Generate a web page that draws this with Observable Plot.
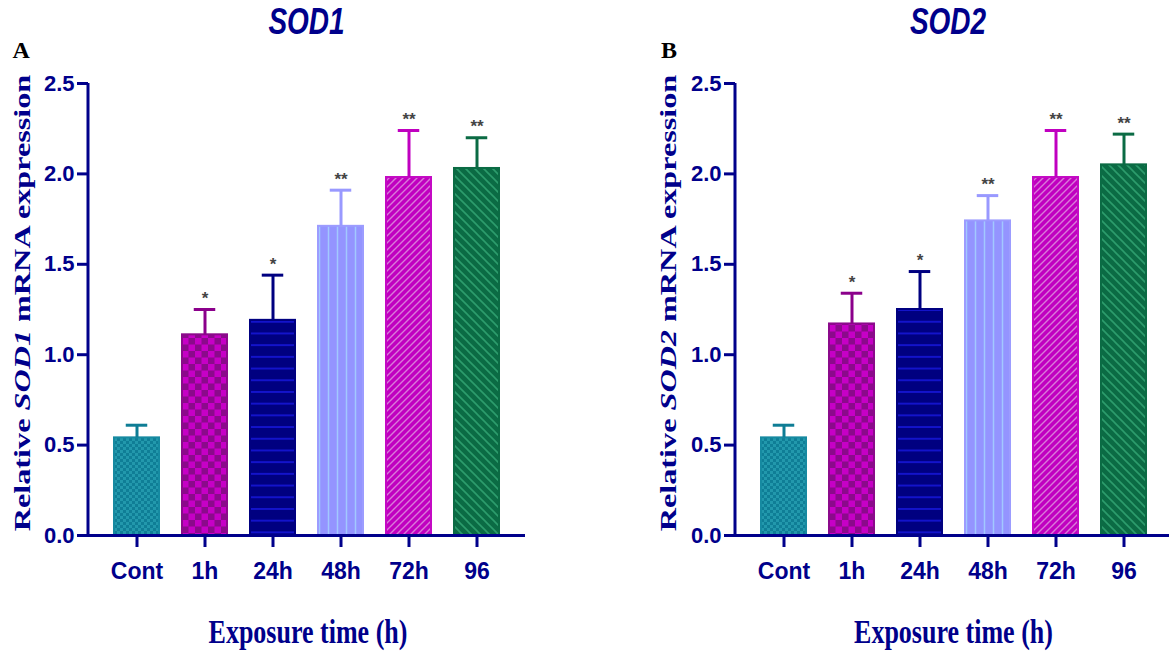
<!DOCTYPE html>
<html>
<head>
<meta charset="utf-8">
<script src="https://cdn.jsdelivr.net/npm/d3@7"></script>
<script src="https://cdn.jsdelivr.net/npm/@observablehq/plot@0.6"></script>
<style>
  html, body { margin: 0; padding: 0; background: #fff; }
  #page { position: relative; width: 1169px; height: 653px; overflow: hidden; background: #fff; }
  .panel { position: absolute; top: 0; height: 653px; overflow: visible; }
  .chart { position: absolute; left: 0; top: 0; width: 530px; }
  .chart svg { max-width: none !important; }
  .title { position: absolute; top: 7.5px; font: italic bold 28px 'Liberation Sans', Arial, sans-serif; line-height: 28px; color: #00008B; transform: translateX(-50%) scaleY(1.35); white-space: nowrap; }
  .xtitle { position: absolute; top: 620px; left: 308px; font: bold 26px 'Liberation Serif', 'Times New Roman', serif; line-height: 26px; color: #00008B; transform: translateX(-50%) scaleY(1.3); white-space: nowrap; }
  .ytitle { position: absolute; left: 22px; top: 303px; font: bold 23px 'Liberation Serif', 'Times New Roman', serif; line-height: 23px; color: #00008B; transform: translate(-50%, -50%) rotate(-90deg) scaleX(1.4); white-space: nowrap; }
  .lbl { position: absolute; left: 12.5px; top: 38px; font: bold 24px 'Liberation Serif', 'Times New Roman', serif; line-height: 24px; color: #000; }
</style>
</head>
<body>
<div id="page">
  <div class="panel" id="panelA" style="left:0; width:647px;">
    <div class="chart" id="chartA"></div>
    <div class="lbl">A</div>
    <div class="title" style="left:306.5px;">SOD1</div>
    <div class="ytitle">Relative <i>SOD1</i> mRNA expression</div>
    <div class="xtitle">Exposure time (h)</div>
  </div>
  <div class="panel" id="panelB" style="left:647px; width:530px;">
    <div class="chart" id="chartB"></div>
    <div class="lbl" style="left:14px;">B</div>
    <div class="title" style="left:301px;">SOD2</div>
    <div class="ytitle" style="left:21px;">Relative <i>SOD2</i> mRNA expression</div>
    <div class="xtitle" style="left:306.5px;">Exposure time (h)</div>
  </div>
</div>
<script>
// ---- data ----
const categories = ["Cont", "1h", "24h", "48h", "72h", "96"];
const sod1Mean = [0.54, 1.11, 1.19, 1.71, 1.98, 2.03];
const sod1Err  = [0.07, 0.14, 0.25, 0.20, 0.26, 0.17];
const sod2Mean = [0.54, 1.17, 1.25, 1.74, 1.98, 2.05];
const sod2Err  = [0.07, 0.17, 0.21, 0.14, 0.26, 0.17];
const sigLabels = ["", "*", "*", "**", "**", "**"];
const yTicks = [0, 0.5, 1.0, 1.5, 2.0, 2.5];

// ---- styles ----
const navy = "#00008B";
const barStroke = ["#168aa1", "#8b0a8b", "#000080", "#9c9cff", "#c40ac4", "#0b6b44"];
const errColor  = ["#0e7d95", "#8b008b", "#000080", "#9999ff", "#c000c0", "#0b6b44"];

function makeDefs(prefix) {
  return () => {
    const defs = d3.create("svg:defs");
    // 0: small teal checker
    let p = defs.append("pattern").attr("id", prefix + "-p0").attr("patternUnits", "userSpaceOnUse").attr("width", 6).attr("height", 6);
    p.append("rect").attr("width", 6).attr("height", 6).attr("fill", "#0f7e96");
    p.append("rect").attr("width", 3).attr("height", 3).attr("fill", "#2298ac");
    p.append("rect").attr("x", 3).attr("y", 3).attr("width", 3).attr("height", 3).attr("fill", "#2298ac");
    // 1: big magenta checker
    p = defs.append("pattern").attr("id", prefix + "-p1").attr("patternUnits", "userSpaceOnUse").attr("width", 13).attr("height", 13);
    p.append("rect").attr("width", 13).attr("height", 13).attr("fill", "#8b0a8b");
    p.append("rect").attr("width", 6.5).attr("height", 6.5).attr("fill", "#c600c6");
    p.append("rect").attr("x", 6.5).attr("y", 6.5).attr("width", 6.5).attr("height", 6.5).attr("fill", "#c600c6");
    // 2: navy with horizontal lines
    p = defs.append("pattern").attr("id", prefix + "-p2").attr("patternUnits", "userSpaceOnUse").attr("width", 10).attr("height", 11.7);
    p.append("rect").attr("width", 10).attr("height", 11.7).attr("fill", "#000080");
    p.append("line").attr("x1", 0).attr("x2", 10).attr("y1", 5.85).attr("y2", 5.85).attr("stroke", "#1414d2").attr("stroke-width", 1.8);
    // 3: periwinkle with vertical lines
    p = defs.append("pattern").attr("id", prefix + "-p3").attr("patternUnits", "userSpaceOnUse").attr("width", 9).attr("height", 10);
    p.append("rect").attr("width", 9).attr("height", 10).attr("fill", "#9494ff");
    p.append("line").attr("x1", 4.5).attr("x2", 4.5).attr("y1", 0).attr("y2", 10).attr("stroke", "#a2c8ff").attr("stroke-width", 1.5);
    // 4: magenta with "/" diagonals
    p = defs.append("pattern").attr("id", prefix + "-p4").attr("patternUnits", "userSpaceOnUse").attr("width", 7).attr("height", 7);
    p.append("rect").attr("width", 7).attr("height", 7).attr("fill", "#c000c0");
    p.append("path").attr("d", "M-1,1 L1,-1 M0,7 L7,0 M6,8 L8,6").attr("stroke", "#d97ad9").attr("stroke-width", 1.4);
    // 5: green with "\" diagonals
    p = defs.append("pattern").attr("id", prefix + "-p5").attr("patternUnits", "userSpaceOnUse").attr("width", 9).attr("height", 9);
    p.append("rect").attr("width", 9).attr("height", 9).attr("fill", "#0b6b44");
    p.append("path").attr("d", "M0,0 L9,9 M-1,8 L1,10 M8,-1 L10,1").attr("stroke", "#2c9c6c").attr("stroke-width", 1.6);
    return defs.node();
  };
}

function yAxisLine(index, scales, values, dimensions) {
  const x = dimensions.marginLeft;
  return d3.create("svg:line")
    .attr("x1", x).attr("x2", x)
    .attr("y1", scales.y(0) + 1.5).attr("y2", scales.y(yTicks[yTicks.length - 1]))
    .attr("stroke", navy).attr("stroke-width", 3)
    .node();
}

function makePanel(prefix, means, errs) {
  const data = categories.map((c, i) => ({
    cat: c,
    mean: means[i],
    upper: means[i] + errs[i],
    fill: `url(#${prefix}-p${i})`,
    stroke: barStroke[i],
    err: errColor[i],
    sig: sigLabels[i]
  }));
  return Plot.plot({
    width: 530,
    height: 600,
    marginLeft: 88,
    marginRight: 5,
    marginTop: 83,
    marginBottom: 65,
    style: { fontFamily: "'Liberation Sans', Arial, sans-serif", background: "transparent", overflow: "visible", maxWidth: "none" },
    x: { type: "band", domain: categories, paddingInner: 0.335, paddingOuter: 0.358, axis: null },
    y: { domain: [0, 2.5], axis: null },
    color: { type: "identity" },
    marks: [
      makeDefs(prefix),
      Plot.barY(data, { x: "cat", y: "mean", fill: "fill", stroke: "stroke", strokeWidth: 2 }),
      Plot.ruleX(data, { x: "cat", y1: "mean", y2: "upper", stroke: "err", strokeWidth: 3 }),
      Plot.tickY(data, { x: "cat", y: "upper", stroke: "err", strokeWidth: 3, insetLeft: 11.75, insetRight: 11.75 }),
      Plot.text(data, { x: "cat", y: "upper", text: "sig", dy: -11, fontSize: 17, fontWeight: "bold", fill: "#444" }),
      Plot.ruleY([0], { stroke: navy, strokeWidth: 3 }),
      yAxisLine,
      Plot.axisY({ ticks: yTicks, tickFormat: d3.format(".1f"), tickSize: 11, tickPadding: 3, fontSize: 22, fontWeight: "bold", color: navy, strokeWidth: 3, label: null }),
      Plot.axisX({ tickSize: 12, tickPadding: 15, fontSize: 23, fontWeight: "bold", color: navy, strokeWidth: 3, label: null })
    ]
  });
}

document.getElementById("chartA").appendChild(makePanel("a", sod1Mean, sod1Err));
document.getElementById("chartB").appendChild(makePanel("b", sod2Mean, sod2Err));
</script>
</body>
</html>
